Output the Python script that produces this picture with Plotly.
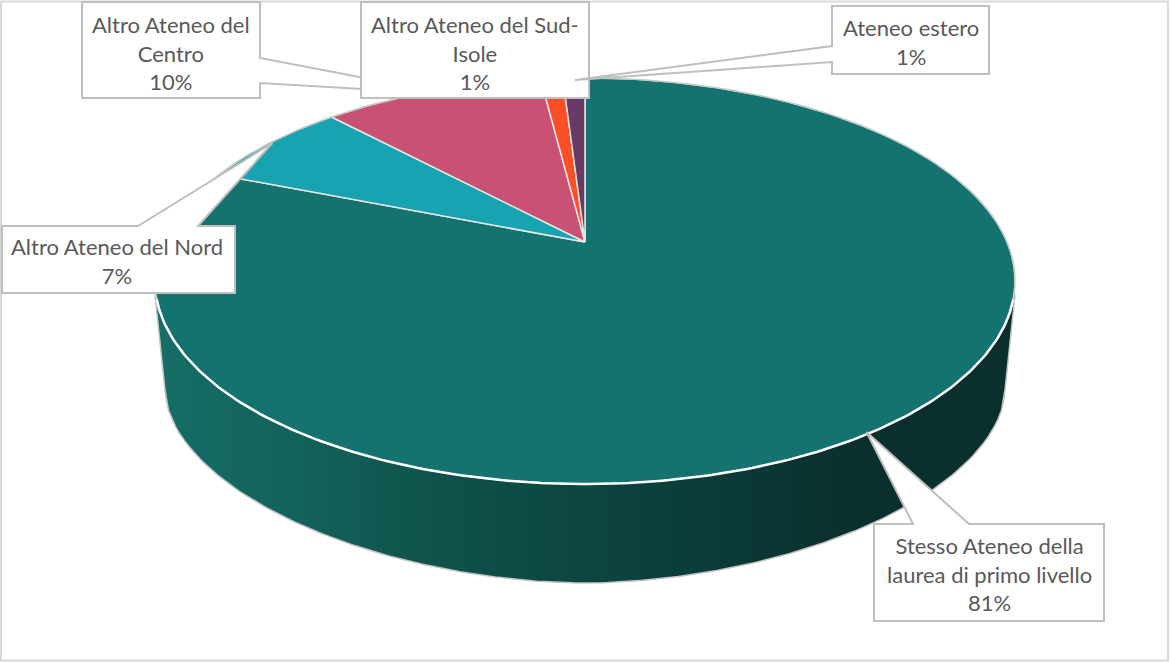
import numpy as np
import plotly.graph_objects as go

# Survey shares: where graduates enrolled for the second-level degree
categories = [
    "Stesso Ateneo della laurea di primo livello",
    "Altro Ateneo del Nord",
    "Altro Ateneo del Centro",
    "Altro Ateneo del Sud-Isole",
    "Ateneo estero",
]
values = [81, 7, 10, 1, 1]
slice_colors = ["#14736e", "#17a3b0", "#c95274", "#fb4f25", "#6a3a66"]
label_lines = [
    "Stesso Ateneo della<br>laurea di primo livello<br>81%",
    "Altro Ateneo del Nord<br>7%",
    "Altro Ateneo del<br>Centro<br>10%",
    "Altro Ateneo del Sud-<br>Isole<br>1%",
    "Ateneo estero<br>1%",
]
label_centers = [(989, 574), (117, 261), (171, 53), (475, 53), (911, 42)]

# Projection of the pie's top face: a unit circle seen in perspective
APEX_X, APEX_Y = 585, 242
SCALE_U, SCALE_V, TILT = 422, 195.5, 0.192
RIM_CY, RIM_RX, RIM_RY = 281, 430, 203
# Lower silhouette of the extruded wall
BASE_CY, BASE_RX, BASE_RY, BASE_P = 390, 420, 193, 1.85
TEXT_COLOR = "#595959"
EDGE_COLOR = "#bfbfbf"


def project(fraction):
    """Map a clockwise fraction of the turn (0 = 12 o'clock) onto the top face."""
    theta = 2 * np.pi * np.asarray(fraction)
    u, v = np.sin(theta), np.cos(theta)
    d = 1 + TILT * v
    return APEX_X + SCALE_U * u / d, APEX_Y - SCALE_V * v / d


def rim_lower(x):
    t = np.clip((x - APEX_X) / RIM_RX, -1, 1)
    return RIM_CY + RIM_RY * np.sqrt(1 - t ** 2)


def base_lower(x):
    x = np.asarray(x, dtype=float)
    left, right = APEX_X - BASE_RX, APEX_X + BASE_RX
    t = np.clip(np.abs(x - APEX_X) / BASE_RX, 0, 1)
    y = BASE_CY + BASE_RY * (1 - t ** BASE_P) ** (1 / BASE_P)
    y = np.where(x < left, 295 + (x - 155) * (BASE_CY - 295) / (left - 155), y)
    y = np.where(x > right, 295 + (1015 - x) * (BASE_CY - 295) / (1015 - right), y)
    return y


# Horizontal shading of the wall, light on the left and nearly black on the right
shade_x = [155, 300, 420, 600, 750, 860, 1015]
shade_rgb = [
    (21, 110, 103), (18, 98, 90), (15, 84, 77), (12, 68, 64),
    (10, 56, 53), (10, 47, 45), (10, 47, 45),
]


def shade(x):
    r, g, b = (np.interp(x, shade_x, [c[i] for c in shade_rgb]) for i in range(3))
    return f"rgb({r:.0f},{g:.0f},{b:.0f})"


fig = go.Figure()

# Wall of the pie, built from narrow strips so the shading can vary along x
step = 3
for x0 in range(155, 1015, step):
    x1 = min(x0 + step + 1, 1015)
    xs = np.linspace(x0, x1, 3)
    top = rim_lower(xs) - 3
    bottom = base_lower(xs)
    fig.add_trace(go.Scatter(
        x=np.r_[xs, xs[::-1], xs[0]], y=np.r_[top, bottom[::-1], top[0]],
        mode="lines", fill="toself", fillcolor=shade((x0 + x1) / 2),
        line=dict(width=0), hoverinfo="skip", showlegend=False,
    ))

# Outer silhouette of the wall
xs = np.r_[155, np.linspace(APEX_X - BASE_RX, APEX_X + BASE_RX, 240), 1015]
fig.add_trace(go.Scatter(
    x=xs, y=base_lower(xs), mode="lines",
    line=dict(color="#c4c4c4", width=1.5), hoverinfo="skip", showlegend=False,
))

# Top face: one wedge per category, angles taken from the shares
edges = np.cumsum([0] + values) / sum(values)
for name, color, a, b in zip(categories, slice_colors, edges[:-1], edges[1:]):
    px, py = project(np.linspace(a, b, max(int((b - a) * 400), 6)))
    fig.add_trace(go.Scatter(
        x=np.r_[APEX_X, px, APEX_X], y=np.r_[APEX_Y, py, APEX_Y],
        mode="lines", fill="toself", fillcolor=color,
        line=dict(color="#e6e6e6", width=1.5), name=name,
        hoverinfo="name", showlegend=False,
    ))

# Thin grey back rim, then the bright front rim over the wall
px, py = project(np.r_[np.linspace(0.70, 1, 120), np.linspace(0, 0.30, 120)])
fig.add_trace(go.Scatter(x=px, y=py, mode="lines", line=dict(color="#c4c4c4", width=1.2),
                         hoverinfo="skip", showlegend=False))
px, py = project(np.linspace(0.295, 0.705, 200))
fig.add_trace(go.Scatter(x=px, y=py, mode="lines", line=dict(color="#ffffff", width=2.5),
                         hoverinfo="skip", showlegend=False))


def outline(points):
    return "M " + " L ".join(f"{x} {y}" for x, y in points) + " Z"


# Callout outlines in drawing order, so later boxes cover earlier pointers
callouts = [
    [(2, 226), (138, 226), (272.5, 143), (198, 226), (235, 226), (235, 293), (2, 293)],
    [(82, 2), (260, 2), (260, 58), (448, 94), (260, 83), (260, 98), (82, 98)],
    [(361, 2), (589, 2), (589, 98), (361, 98)],
    [(832, 6), (989, 6), (989, 74), (832, 74), (832, 62), (575, 80), (832, 46)],
    [(874, 524), (913, 524), (866.5, 432), (969, 524), (1104, 524), (1104, 621), (874, 621)],
]
shapes = [dict(type="rect", xref="x", yref="y", x0=1, y0=1.5, x1=1168, y1=660.5,
               line=dict(color="#d9d9d9", width=2), layer="below")]
for pts in callouts:
    shapes.append(dict(type="path", xref="x", yref="y", path=outline(pts),
                       fillcolor="#ffffff", line=dict(color=EDGE_COLOR, width=2),
                       layer="above"))

annotations = [
    dict(x=cx, y=cy, xref="x", yref="y", text=text, showarrow=False, align="center",
         xanchor="center", yanchor="middle",
         font=dict(family="Lato", size=22, color=TEXT_COLOR))
    for text, (cx, cy) in zip(label_lines, label_centers)
]

fig.update_layout(
    width=1170, height=662, margin=dict(l=0, r=0, t=0, b=0),
    paper_bgcolor="#ffffff", plot_bgcolor="#ffffff",
    xaxis=dict(range=[0, 1170], visible=False, fixedrange=True),
    yaxis=dict(range=[662, 0], visible=False, fixedrange=True),
    shapes=shapes, annotations=annotations, showlegend=False,
)

fig.write_html("out.html", config=dict(displayModeBar=False))
